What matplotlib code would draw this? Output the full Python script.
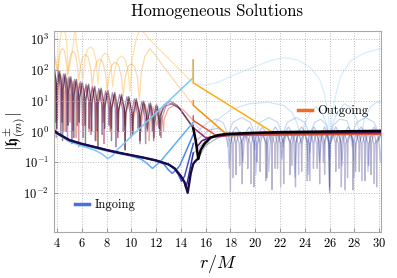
import numpy as np
import matplotlib.pyplot as plt
from matplotlib.lines import Line2D

plt.rcParams['mathtext.fontset'] = 'cm'
plt.rcParams['font.family'] = 'serif'
plt.rcParams['font.serif'] = ['cmr10', 'DejaVu Serif']
plt.rcParams['axes.formatter.use_mathtext'] = True

# ---- data: (r/M, log10|h|) knots ----
# ingoing solutions, lightest -> darkest.  smooth for r < 15, oscillating for r > 15
in0_left = [(3.8, -0.02), (4.0, -0.08), (5.0, -0.33), (6.0, -0.47), (7.0, -0.60), (7.6, -0.72),
            (8.1, -0.88), (8.5, -0.78), (8.8, -0.62), (15.0, 1.75), (15.0, 2.32)]
in1_left = [(3.8, -0.01), (4.0, -0.07), (5.0, -0.30), (6.0, -0.43), (7.0, -0.53), (8.0, -0.63),
            (9.0, -0.72), (10.0, -0.80), (10.8, -0.90), (11.3, -1.05), (11.7, -1.20), (12.0, -1.10),
            (12.4, -0.95), (15.0, 0.30)]
in2_left = [(3.8, 0.0), (4.0, -0.06), (5.0, -0.29), (6.0, -0.41), (7.0, -0.51), (8.0, -0.61),
            (9.0, -0.70), (10.0, -0.78), (11.0, -0.86), (12.0, -0.96), (12.6, -1.05), (13.0, -1.25),
            (13.3, -1.36), (13.6, -1.25), (13.9, -1.12), (15.0, -0.10)]
in3_left = [(3.8, 0.02), (4.0, -0.05), (5.0, -0.28), (6.0, -0.40), (7.0, -0.50), (8.0, -0.60),
            (9.0, -0.69), (10.0, -0.77), (11.0, -0.85), (12.0, -0.94), (13.0, -1.07), (13.5, -1.22),
            (13.8, -1.40), (14.05, -1.62), (14.3, -1.45), (15.0, -0.40)]
in4_left = [(3.8, 0.02), (4.0, -0.05), (5.0, -0.28), (6.0, -0.40), (7.0, -0.50), (8.0, -0.60),
            (9.0, -0.69), (10.0, -0.77), (11.0, -0.85), (12.0, -0.94), (13.0, -1.07), (13.5, -1.20),
            (14.0, -1.47), (14.25, -1.62), (14.4, -1.82), (14.55, -1.60), (15.0, -0.70)]
in5_left = [(3.8, 0.02), (4.0, -0.05), (5.0, -0.28), (6.0, -0.40), (7.0, -0.50), (8.0, -0.60),
            (9.0, -0.69), (10.0, -0.77), (11.0, -0.85), (12.0, -0.94), (13.0, -1.07), (13.5, -1.20),
            (14.0, -1.45), (14.3, -1.65), (14.55, -1.99), (14.8, -1.35), (15.0, -1.05), (15.2, -0.95),
            (15.4, -0.88)]

in0_right = [(15.0, 1.56), (16.0, 1.50), (17.0, 1.60), (18.2, 1.82), (19.6, 2.05), (21.2, 2.30),
             (22.3, 2.40), (23.4, 2.33), (24.4, 2.10), (25.2, 1.70), (25.6, 1.20), (25.9, 0.50),
             (26.05, -0.30), (26.2, 0.50), (26.5, 1.20), (26.9, 1.80), (27.7, 2.30), (28.8, 2.55),
             (30.2, 2.70)]
in1_right = [(15.0, 0.30), (15.6, 0.05), (16.1, -0.50), (16.5, 0.10), (17.0, 0.40), (18.0, 0.70),
             (19.5, 0.90), (21.0, 0.95), (22.3, 0.85), (23.0, 0.60), (23.45, 0.20), (23.7, -0.40),
             (23.95, 0.20), (24.4, 0.60), (24.9, 0.80), (25.4, 0.60), (25.8, 0.20), (26.0, -0.50),
             (26.2, 0.20), (26.6, 0.60), (27.2, 0.90), (27.8, 0.75), (28.2, 0.40), (28.5, -0.30),
             (28.8, 0.40), (29.3, 0.80), (29.8, 0.95), (30.2, 0.95)]
in2_right = [(15.0, -0.10), (15.6, 0.10), (16.2, 0.30), (16.8, 0.40), (17.4, 0.30), (17.65, 0.05),
             (17.8, -0.50), (17.95, 0.05), (18.2, 0.30), (18.9, 0.45), (19.6, 0.30), (19.85, 0.05),
             (20.0, -0.60), (20.15, 0.05), (20.4, 0.30), (21.1, 0.45), (21.8, 0.30), (22.05, 0.05),
             (22.2, -0.50), (22.35, 0.05), (22.6, 0.30), (23.3, 0.45), (24.0, 0.30), (24.25, 0.05),
             (24.4, -0.70), (24.55, 0.05), (24.8, 0.30), (25.3, 0.40), (25.75, 0.20), (25.9, -0.10),
             (26.0, -0.90), (26.1, -0.10), (26.3, 0.20), (26.8, 0.40), (27.4, 0.35), (27.65, 0.05),
             (27.8, -0.50), (27.95, 0.05), (28.2, 0.30), (28.9, 0.45), (29.6, 0.30), (29.85, 0.05),
             (30.0, -0.30), (30.2, 0.10)]
in3_right = [(15.0, -0.40), (15.5, -0.20), (16.3, 0.05), (17.0, 0.10), (17.55, -0.05), (17.8, -0.40),
             (17.9, -1.20), (18.0, -0.40), (18.2, 0.0), (18.45, 0.15), (18.7, 0.0), (18.9, -0.40),
             (19.0, -1.00), (19.1, -0.40), (19.3, 0.0), (19.52, 0.15), (19.75, 0.0), (19.95, -0.40),
             (20.05, -1.40), (20.15, -0.40), (20.35, 0.0), (20.58, 0.15), (20.8, 0.0), (21.0, -0.40),
             (21.1, -1.30), (21.2, -0.40), (21.4, 0.0), (21.62, 0.15), (21.85, 0.0), (22.05, -0.40),
             (22.15, -0.90), (22.25, -0.40), (22.45, 0.0), (22.68, 0.15), (22.9, 0.0), (23.1, -0.40),
             (23.2, -1.50), (23.3, -0.40), (23.5, 0.0), (23.75, 0.15), (24.0, 0.0), (24.2, -0.40),
             (24.3, -1.40), (24.4, -0.40), (24.55, 0.0), (24.75, 0.15), (24.95, 0.0), (25.1, -0.40),
             (25.2, -1.00), (25.3, -0.40), (25.45, 0.0), (25.6, 0.15), (25.75, 0.0), (25.9, -0.40),
             (26.0, -1.80), (26.1, -0.40), (26.3, 0.0), (26.5, 0.15), (26.7, 0.0), (26.9, -0.40),
             (27.0, -1.10), (27.1, -0.40), (27.3, 0.0), (27.5, 0.15), (27.7, 0.0), (27.9, -0.40),
             (28.0, -1.50), (28.1, -0.40), (28.3, 0.0), (28.55, 0.15), (28.8, 0.0), (29.0, -0.40),
             (29.1, -1.30), (29.2, -0.40), (29.4, 0.0), (29.6, 0.15), (29.8, 0.0), (30.0, -0.40),
             (30.1, -1.00), (30.2, -0.40)]
in4_right = [(15.0, -0.70), (15.3, -0.60), (16.0, -0.30), (17.0, -0.12), (18.0, -0.05),
             (18.16, -0.40), (18.2, -1.50), (18.24, -0.40), (18.47, -0.05), (18.71, -0.40), (18.75, -1.10),
             (18.79, -0.40), (19.2, -0.05), (19.61, -0.40), (19.65, -1.70), (19.69, -0.40), (19.9, -0.05),
             (20.11, -0.40), (20.15, -1.00), (20.19, -0.40), (20.55, -0.05), (20.91, -0.40), (20.95, -1.50),
             (20.99, -0.40), (21.28, -0.05), (21.56, -0.40), (21.6, -1.20), (21.64, -0.40), (21.82, -0.05),
             (22.01, -0.40), (22.05, -1.80), (22.09, -0.40), (22.5, -0.05), (22.91, -0.40), (22.95, -1.10),
             (22.99, -0.40), (23.22, -0.05), (23.46, -0.40), (23.5, -1.40), (23.54, -0.40), (23.95, -0.05),
             (24.36, -0.40), (24.4, -1.60), (24.44, -0.40), (24.7, -0.05), (24.96, -0.40), (25.0, -1.20),
             (25.04, -0.40), (25.25, -0.05), (25.46, -0.40), (25.5, -1.00), (25.54, -0.40), (25.75, -0.05),
             (25.96, -0.40), (26.0, -1.90), (26.04, -0.40), (26.38, -0.05), (26.71, -0.40), (26.75, -1.20),
             (26.79, -0.40), (27.0, -0.05), (27.21, -0.40), (27.25, -1.90), (27.29, -0.40), (27.68, -0.05),
             (28.06, -0.40), (28.1, -1.30), (28.14, -0.40), (28.35, -0.05), (28.56, -0.40), (28.6, -1.60),
             (28.64, -0.40), (28.88, -0.05), (29.11, -0.40), (29.15, -1.10), (29.19, -0.40), (29.38, -0.05),
             (29.56, -0.40), (29.6, -1.70), (29.64, -0.40), (30.2, -0.05)]
in5_right = [(15.4, -0.88), (16.0, -0.45), (17.0, -0.20), (17.8, -0.08), (17.96, -0.35),
             (18.0, -1.95), (18.04, -0.35), (18.22, -0.03), (18.41, -0.35), (18.45, -1.40), (18.49, -0.35),
             (18.7, -0.03), (18.91, -0.35), (18.95, -1.70), (18.99, -0.35), (19.18, -0.03), (19.36, -0.35),
             (19.4, -1.20), (19.44, -0.35), (19.65, -0.03), (19.86, -0.35), (19.9, -1.80), (19.94, -0.35),
             (20.15, -0.03), (20.36, -0.35), (20.4, -1.30), (20.44, -0.35), (20.62, -0.03), (20.81, -0.35),
             (20.85, -1.60), (20.89, -0.35), (21.1, -0.03), (21.31, -0.35), (21.35, -1.90), (21.39, -0.35),
             (21.58, -0.03), (21.76, -0.35), (21.8, -1.20), (21.84, -0.35), (22.05, -0.03), (22.26, -0.35),
             (22.3, -1.70), (22.34, -0.35), (22.55, -0.03), (22.76, -0.35), (22.8, -1.40), (22.84, -0.35),
             (23.02, -0.03), (23.21, -0.35), (23.25, -1.80), (23.29, -0.35), (23.5, -0.03), (23.71, -0.35),
             (23.75, -1.30), (23.79, -0.35), (23.98, -0.03), (24.16, -0.35), (24.2, -1.60), (24.24, -0.35),
             (24.45, -0.03), (24.66, -0.35), (24.7, -1.20), (24.74, -0.35), (24.95, -0.03), (25.16, -0.35),
             (25.2, -1.70), (25.24, -0.35), (25.4, -0.03), (25.56, -0.35), (25.6, -1.40), (25.64, -0.35),
             (25.8, -0.03), (25.96, -0.35), (26.0, -2.00), (26.04, -0.35), (26.25, -0.03), (26.46, -0.35),
             (26.5, -1.30), (26.54, -0.35), (26.72, -0.03), (26.91, -0.35), (26.95, -1.80), (26.99, -0.35),
             (27.2, -0.03), (27.41, -0.35), (27.45, -1.50), (27.49, -0.35), (27.68, -0.03), (27.86, -0.35),
             (27.9, -1.90), (27.94, -0.35), (28.15, -0.03), (28.36, -0.35), (28.4, -1.30), (28.44, -0.35),
             (28.62, -0.03), (28.81, -0.35), (28.85, -1.60), (28.89, -0.35), (29.1, -0.03), (29.31, -0.35),
             (29.35, -1.40), (29.39, -0.35), (29.58, -0.03), (29.76, -0.35), (29.8, -1.80), (29.84, -0.35),
             (30.2, -0.03)]

# outgoing solutions, lightest -> darkest.  oscillating for r < 15, smooth for r > 15
out0_left = [(3.8, 2.5), (3.95, 2.25), (4.1, 1.95), (4.2, 2.87), (4.34, 3.21), (4.5, 3.3), (4.66, 3.21),
             (4.8, 2.87), (4.9, 1.85), (5.1, 2.3), (5.35, 2.9), (5.45, 3.6), (5.55, 2.9), (5.8, 2.3),
             (6.1, 1.7), (6.24, 2.32), (6.46, 2.66), (6.7, 2.75), (6.94, 2.66), (7.16, 2.32), (7.3, 1.55),
             (7.44, 2.12), (7.66, 2.46), (7.9, 2.55), (8.14, 2.46), (8.36, 2.12), (8.5, 1.45),
             (8.67, 2.02), (8.92, 2.36), (9.2, 2.45), (9.48, 2.36), (9.73, 2.02), (9.9, 1.3),
             (10.05, 2.3), (10.4, 3.0), (10.7, 3.35), (11.5, 2.98), (12.5, 2.57), (13.5, 2.17),
             (14.5, 1.76), (15.0, 1.56)]
out1_left = [(3.8, 2.4), (4.05, 1.92), (4.15, 2.27), (4.29, 2.61), (4.45, 2.7), (4.61, 2.61), (4.75, 2.27),
             (4.85, 1.83), (4.96, 2.17), (5.12, 2.51), (5.3, 2.6), (5.48, 2.51), (5.64, 2.17), (5.75, 1.66),
             (5.88, 2.07), (6.08, 2.41), (6.3, 2.5), (6.52, 2.41), (6.72, 2.07), (6.85, 1.5),
             (6.99, 1.92), (7.21, 2.26), (7.45, 2.35), (7.69, 2.26), (7.91, 1.92), (8.05, 1.33),
             (8.21, 1.82), (8.44, 2.16), (8.7, 2.25), (8.96, 2.16), (9.19, 1.82), (9.35, 1.18),
             (9.51, 1.77), (9.74, 2.11), (10.0, 2.2), (10.26, 2.11), (10.49, 1.77), (10.65, 1.04),
             (10.8, 1.9), (11.1, 2.45), (11.5, 2.69), (12.0, 2.45), (12.5, 2.16), (13.5, 1.63),
             (14.2, 1.27), (15.0, 0.85)]
out2_left = [(3.8, 1.95), (4.0, 1.45), (4.05, 0.4),
             (4.1, 1.35), (4.3, 1.85), (4.5, 1.35), (4.55, 0.0), (4.6, 1.25), (4.8, 1.75), (5.0, 1.25),
             (5.05, 0.3), (5.1, 1.14), (5.3, 1.64), (5.5, 1.14), (5.55, -0.2), (5.6, 1.06), (5.8, 1.56),
             (6.0, 1.06), (6.05, 0.2), (6.1, 0.97), (6.325, 1.47), (6.55, 0.97), (6.6, 0.0), (6.65, 0.9),
             (6.875, 1.4), (7.1, 0.9), (7.15, -0.3), (7.2, 0.83), (7.425, 1.33), (7.65, 0.83), (7.7, 0.3),
             (7.75, 0.76), (8.0, 1.26), (8.25, 0.76), (8.3, 0.0), (8.35, 0.68), (8.6, 1.18), (8.85, 0.68),
             (8.9, -0.2), (8.95, 0.61), (9.2, 1.11), (9.45, 0.61), (9.5, 0.2), (9.55, 0.54), (9.825, 1.04),
             (10.1, 0.54), (10.15, -0.1), (10.2, 0.46), (10.475, 0.96), (10.75, 0.46), (10.8, 0.0),
             (10.85, 0.38), (11.125, 0.88), (11.4, 0.38), (11.45, -0.3), (11.5, 0.3), (11.75, 0.8),
             (12.0, 0.3), (12.05, 0.2), (12.1, 0.25), (12.325, 0.75), (12.55, 0.25), (12.6, 0.0),
             (12.65, 0.4), (13.0, 0.75), (13.5, 0.85), (14.2, 0.7), (15.0, 0.36)]
out3_left = [(3.8, 1.95), (3.9, 1.5), (3.95, -0.2),
             (4.0, 1.41), (4.175, 1.91), (4.35, 1.41), (4.4, 0.3), (4.45, 1.32), (4.625, 1.82), (4.8, 1.32),
             (4.85, -0.3), (4.9, 1.23), (5.075, 1.73), (5.25, 1.23), (5.3, 0.0), (5.35, 1.14), (5.525, 1.64),
             (5.7, 1.14), (5.75, -0.5), (5.8, 1.06), (6.0, 1.56), (6.2, 1.06), (6.25, 0.2), (6.3, 0.99),
             (6.5, 1.49), (6.7, 0.99), (6.75, -0.1), (6.8, 0.92), (7.0, 1.42), (7.2, 0.92), (7.25, 0.0),
             (7.3, 0.86), (7.525, 1.36), (7.75, 0.86), (7.8, -0.4), (7.85, 0.79), (8.075, 1.29), (8.3, 0.79),
             (8.35, 0.1), (8.4, 0.72), (8.625, 1.22), (8.85, 0.72), (8.9, -0.2), (8.95, 0.65), (9.2, 1.15),
             (9.45, 0.65), (9.5, -0.6), (9.55, 0.58), (9.8, 1.08), (10.05, 0.58), (10.1, 0.0), (10.15, 0.51),
             (10.4, 1.01), (10.65, 0.51), (10.7, -0.3), (10.75, 0.43), (11.0, 0.93), (11.25, 0.43),
             (11.3, 0.1), (11.35, 0.36), (11.575, 0.86), (11.8, 0.36), (11.85, -0.2), (11.9, 0.31),
             (12.125, 0.81), (12.35, 0.31), (12.4, -0.2), (12.45, 0.4), (12.9, 0.95), (13.8, 0.8),
             (15.0, 0.15)]
out4_left = [(3.8, 1.85), (3.85, 1.5), (3.9, 0.3),
             (3.95, 1.46), (4.1, 1.96), (4.25, 1.46), (4.3, -0.1), (4.35, 1.37), (4.525, 1.87), (4.7, 1.37),
             (4.75, 0.0), (4.8, 1.28), (4.975, 1.78), (5.15, 1.28), (5.2, -0.4), (5.25, 1.19), (5.425, 1.69),
             (5.6, 1.19), (5.65, 0.2), (5.7, 1.12), (5.875, 1.62), (6.05, 1.12), (6.1, -0.2), (6.15, 1.04),
             (6.35, 1.54), (6.55, 1.04), (6.6, 0.1), (6.65, 0.97), (6.85, 1.47), (7.05, 0.97), (7.1, -0.3),
             (7.15, 0.9), (7.375, 1.4), (7.6, 0.9), (7.65, -0.1), (7.7, 0.82), (7.925, 1.32), (8.15, 0.82),
             (8.2, 0.2), (8.25, 0.76), (8.475, 1.26), (8.7, 0.76), (8.75, -0.5), (8.8, 0.7), (9.05, 1.2),
             (9.3, 0.7), (9.35, 0.0), (9.4, 0.63), (9.65, 1.13), (9.9, 0.63), (9.95, -0.2), (10.0, 0.56),
             (10.25, 1.06), (10.5, 0.56), (10.55, 0.1), (10.6, 0.48), (10.85, 0.98), (11.1, 0.48),
             (11.15, -0.4), (11.2, 0.41), (11.425, 0.91), (11.65, 0.41), (11.7, 0.0), (11.75, 0.35),
             (11.975, 0.85), (12.2, 0.35), (12.25, 0.1), (12.3, 0.5), (12.7, 0.82), (13.3, 0.9),
             (14.0, 0.7), (14.6, 0.35), (15.0, 0.1)]
out5_left = [(3.8, 2.05), (3.95, 1.55), (4.0, 0.1),
             (4.05, 1.45), (4.22, 1.96), (4.4, 1.45), (4.45, -0.3), (4.5, 1.37), (4.67, 1.88), (4.85, 1.37),
             (4.9, 0.2), (4.95, 1.29), (5.12, 1.78), (5.3, 1.29), (5.35, -0.2), (5.4, 1.2), (5.57, 1.7),
             (5.75, 1.2), (5.8, 0.3), (5.85, 1.12), (6.05, 1.61), (6.25, 1.12), (6.3, -0.4), (6.35, 1.05),
             (6.55, 1.54), (6.75, 1.05), (6.8, 0.0), (6.85, 0.98), (7.05, 1.47), (7.25, 0.98), (7.3, -0.5),
             (7.35, 0.92), (7.57, 1.41), (7.8, 0.92), (7.85, 0.1), (7.9, 0.85), (8.12, 1.34), (8.35, 0.85),
             (8.4, -0.3), (8.45, 0.78), (8.67, 1.27), (8.9, 0.78), (8.95, 0.0), (9.0, 0.72), (9.22, 1.21),
             (9.45, 0.72), (9.5, -0.6), (9.56, 0.65), (9.8, 1.14), (10.04, 0.65), (10.1, -0.1),
             (10.16, 0.58), (10.4, 1.07), (10.64, 0.58), (10.7, -0.4), (10.76, 0.5), (11.0, 0.99),
             (11.24, 0.5), (11.3, 0.0), (11.36, 0.44), (11.55, 0.93), (11.74, 0.44), (11.8, -0.3),
             (11.86, 0.38), (12.05, 0.87), (12.24, 0.38), (12.3, -0.13), (12.36, 0.5), (12.6, 0.85),
             (13.1, 1.0), (13.7, 0.85), (14.3, 0.5), (15.0, 0.1)]

out0_right = [(15.0, 2.32), (15.0, 1.58), (21.3, 0.0), (21.8, -0.04), (22.5, -0.07), (30.2, -0.06)]
out1_right = [(15.0, 1.0), (15.0, 0.85), (17.6, -0.06), (18.5, -0.1), (30.2, -0.08)]
out2_right = [(15.0, 0.5), (15.0, 0.36), (16.8, -0.12), (17.5, -0.13), (30.2, -0.09)]
out3_right = [(15.0, 0.2), (15.0, 0.12), (16.0, -0.2), (16.8, -0.18), (18.0, -0.12), (20.0, -0.08),
              (30.2, -0.05)]
out4_right = [(15.0, 0.1), (15.3, -0.5), (15.7, -0.3), (16.5, -0.17), (18.0, -0.09), (20.0, -0.06),
              (30.2, -0.03)]
out5_right = [(15.0, 0.1), (15.2, -0.3), (15.4, -0.89), (15.6, -0.6), (15.9, -0.4), (16.4, -0.2),
              (17.0, -0.12), (17.7, -0.08), (19.6, -0.05), (22.0, -0.02), (26.0, 0.0), (30.2, 0.02)]

in_left = [in0_left, in1_left, in2_left, in3_left, in4_left, in5_left]
in_right = [in0_right, in1_right, in2_right, in3_right, in4_right, in5_right]
out_left = [out0_left, out1_left, out2_left, out3_left, out4_left, out5_left]
out_right = [out0_right, out1_right, out2_right, out3_right, out4_right, out5_right]

in_colors = ['#7fc8f8', '#62aef2', '#4d86e8', '#3f58d0', '#2f2c96', '#1b0b4d']
out_colors = [plt.cm.inferno(v) for v in [0.82, 0.76, 0.62, 0.45, 0.28, 0.0]]
in_faint_alpha = [0.3, 0.3, 0.3, 0.32, 0.3, 0.3]
out_faint_alpha = [0.35, 0.35, 0.5, 0.5, 0.5, 0.45]


def xy(knots):
    a = np.array(knots)
    return a[:, 0], 10.0 ** a[:, 1]


fig = plt.figure(figsize=(3.97, 2.78), dpi=100)
ax = fig.add_axes([0.136, 0.165, 0.824, 0.723])

# faint oscillating parts first
for i, k in enumerate(out_left):
    ax.plot(*xy(k), color=out_colors[i], lw=0.9, alpha=out_faint_alpha[i], zorder=1)
for i, k in enumerate(in_right):
    ax.plot(*xy(k), color=in_colors[i], lw=0.9, alpha=in_faint_alpha[i], zorder=1)

# smooth parts on top
for i, k in enumerate(in_left):
    ax.plot(*xy(k), color=in_colors[i], lw=1.1 if i < 5 else 1.7, zorder=2 + i * 0.1)
for i, k in enumerate(out_right):
    ax.plot(*xy(k), color=out_colors[i], lw=1.1 if i < 5 else 1.8, zorder=3 + i * 0.1)

ax.set_yscale('log')
ax.set_xlim(3.76, 30.16)
ax.set_ylim(10 ** -3.27, 10 ** 3.26)
ax.set_xticks(np.arange(4, 31, 2))
ax.set_yticks([1e-2, 1e-1, 1e0, 1e1, 1e2, 1e3])
ax.minorticks_off()
ax.tick_params(direction='in', length=3, width=0.6, labelsize=9, color='#888888')
ax.grid(True, ls=':', lw=0.7, color='#bbbbbb')
for s in ax.spines.values():
    s.set_color('#a8a8a8')
    s.set_linewidth(0.8)

ax.set_title('Homogeneous Solutions', fontsize=12, pad=11)
ax.set_xlabel(r'$r/M$', fontsize=13, labelpad=2)
ax.set_ylabel(r'$|\mathfrak{h}^{\pm}_{(m)}|$', fontsize=12)
ax.yaxis.set_label_coords(-0.075, 0.5)

leg1 = ax.legend(handles=[Line2D([], [], color='#4a70e0', lw=2.5)], labels=['Ingoing'],
                 loc='center left', bbox_to_anchor=(0.03, 0.134), frameon=False,
                 handlelength=1.1, handletextpad=0.5, fontsize=9)
ax.add_artist(leg1)
ax.legend(handles=[Line2D([], [], color='#f26b21', lw=2.5)], labels=['Outgoing'],
          loc='center left', bbox_to_anchor=(0.712, 0.602), frameon=False,
          handlelength=1.1, handletextpad=0.4, fontsize=9)

fig.savefig('out.png', dpi=100)
